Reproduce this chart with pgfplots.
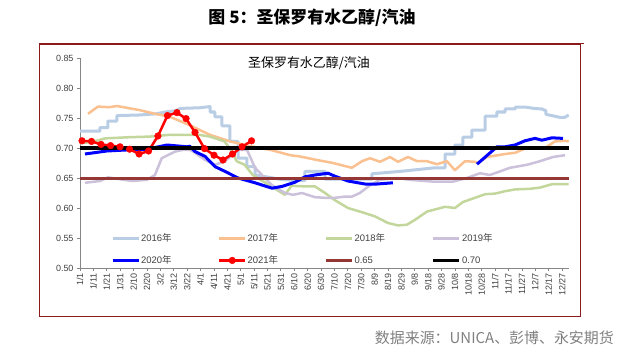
\documentclass[border=0pt]{standalone}
\usepackage{fontspec}
\setmainfont{Liberation Sans}
\newfontfamily\cjk{Noto Sans CJK SC}
\usepackage{pgfplots}
\pgfplotsset{compat=1.18}
\definecolor{c16}{HTML}{B9CDE5}
\definecolor{c17}{HTML}{FAC090}
\definecolor{c18}{HTML}{C3D69B}
\definecolor{c19}{HTML}{CCC1DA}
\definecolor{c20}{HTML}{0000FF}
\definecolor{c21}{HTML}{FF0000}
\definecolor{c65}{HTML}{953735}
\definecolor{boxred}{HTML}{8B1A1A}
\definecolor{axgray}{HTML}{868686}
\definecolor{txtgray}{HTML}{404040}
\begin{document}
\begin{tikzpicture}[x=1bp,y=1bp]
\path (0,0) rectangle (622,354);
\node[font=\cjk\bfseries\fontsize{17}{17}\selectfont, inner sep=0pt] at (312,336) {图 5：圣保罗有水乙醇/汽油};
\draw[boxred, line width=1bp] (39,310) rectangle (580,38);
\draw[boxred, line width=1.2bp] (39,310.5) -- (584,310.5);
\node[font=\cjk\fontsize{15}{15}\selectfont, text=gray, inner sep=0pt, anchor=east] at (614,16) {数据来源：UNICA、彭博、永安期货};
\begin{axis}[
  at={(80bp,86bp)}, anchor=south west, scale only axis,
  width=489bp, height=210bp,
  xmin=1, xmax=366.2, ymin=0.5, ymax=0.85,
  axis lines*=left,
  axis line style={draw=axgray, line width=0.75bp},
  tick style={draw=axgray, line width=0.75bp},
  tick align=outside, major tick length=3bp,
  ytick={0.50,0.55,0.60,0.65,0.70,0.75,0.80,0.85},
  y tick label style={/pgf/number format/fixed, /pgf/number format/fixed zerofill, /pgf/number format/precision=2, font=\fontsize{9}{9}\selectfont, text=txtgray},
  /pgf/number format/assume math mode=true,
  xtick={1,11,...,361},
  xticklabels={1/1,1/11,1/21,1/31,2/10,2/20,3/2,3/12,3/22,4/1,4/11,4/21,5/1,5/11,5/21,5/31,6/10,6/20,6/30,7/10,7/20,7/30,8/9,8/19,8/29,9/8,9/18,9/28,10/8,10/18,10/28,11/7,11/17,11/27,12/7,12/17,12/27},
  x tick label style={rotate=90, anchor=east, font=\fontsize{9}{9}\selectfont, text=txtgray, inner sep=2bp},
  unbounded coords=jump,
  legend columns=4,
  legend cell align=left,
  legend style={draw=none, fill=none, inner sep=0pt, outer sep=0pt,
    at={(0.0634,0.168)}, anchor=north west,
    font=\fontsize{9.5}{9.5}\selectfont, text=txtgray,
    nodes={inner sep=1bp},
    row sep=10.5bp,
    /tikz/every even column/.append style={column sep=36bp}},
  legend image code/.code={\draw[mark repeat=2,mark phase=2,#1] plot coordinates {(0bp,0bp) (13bp,0bp) (26bp,0bp)};},
]
\addplot[c16, line width=3bp, line join=round] coordinates {
(1,0.728)(15.9,0.728)(15.9,0.734)(21.9,0.734)(21.9,0.745)(28.6,0.745)(28.6,0.754)(45,0.755)(58,0.757)(64.5,0.760)(72,0.762)(76,0.766)(90,0.767)(98.1,0.769)(98.1,0.760)(101.8,0.760)(101.8,0.752)(107,0.752)(107,0.737)(113,0.737)(113,0.711)(119,0.711)(119,0.683)(125.7,0.683)(125.7,0.669)(131.7,0.669)(131.7,0.655)(140,0.652)(150,0.648)(160,0.646)(169,0.646)(169,0.661)(184,0.661)(184,0.648)(219,0.648)(219,0.657)(240,0.661)(266,0.667)(273.6,0.667)(273.6,0.690)(281,0.690)(281,0.705)(287,0.705)(287,0.718)(293.7,0.718)(293.7,0.730)(303.5,0.730)(303.5,0.753)(312.4,0.753)(312.4,0.760)(318.4,0.760)(318.4,0.765)(325.9,0.765)(325.9,0.768)(334,0.768)(340,0.766)(346,0.765)(349,0.762)(349,0.756)(353.5,0.754)(359.5,0.751)(363,0.751)(366,0.755)};
\addlegendentry{\makebox[40bp][l]{2016{\cjk 年}}}
\addplot[c17, line width=2.5bp, line join=round] coordinates {
(7,0.757)(14.4,0.769)(23,0.768)(28.6,0.770)(45.8,0.763)(57,0.757)(68.2,0.752)(83,0.738)(98,0.722)(113,0.711)(128,0.703)(143,0.697)(158,0.688)(165,0.686)(178,0.680)(190,0.675)(204,0.667)(211.6,0.678)(217.6,0.683)(225,0.677)(232.5,0.685)(238.5,0.677)(246,0.685)(252.7,0.678)(260,0.678)(267.6,0.673)(275,0.678)(281,0.663)(288.5,0.678)(296,0.677)(298,0.675)(305,0.685)(318.4,0.690)(325.9,0.692)(333.3,0.699)(348.3,0.700)(355.7,0.711)(363,0.712)(366,0.711)};
\addlegendentry{\makebox[40bp][l]{2017{\cjk 年}}}
\addplot[c18, line width=2.5bp, line join=round] coordinates {
(1,0.708)(10,0.710)(19.7,0.716)(38,0.718)(53,0.719)(68,0.722)(90,0.722)(98,0.719)(109,0.711)(115,0.692)(118,0.678)(124,0.672)(130,0.655)(141,0.640)(154,0.622)(159,0.637)(169,0.636)(176.5,0.636)(184,0.625)(191.4,0.613)(201.1,0.600)(211.6,0.593)(221.3,0.586)(231,0.575)(238.5,0.571)(245,0.572)(251,0.580)(260.1,0.594)(273.6,0.602)(281,0.600)(287,0.610)(296,0.617)(303.5,0.623)(311,0.624)(318.4,0.628)(326,0.631)(337,0.632)(344.5,0.634)(354,0.640)(366,0.640)};
\addlegendentry{\makebox[40bp][l]{2018{\cjk 年}}}
\addplot[c19, line width=2.5bp, line join=round] coordinates {
(4.7,0.642)(15.9,0.645)(21.9,0.651)(39.8,0.645)(51,0.647)(57,0.655)(62,0.683)(72,0.694)(78,0.697)(83,0.697)(87,0.692)(94.4,0.680)(101.8,0.672)(109.3,0.678)(114.5,0.688)(119,0.697)(125.7,0.697)(131.7,0.667)(136.9,0.655)(144.4,0.638)(154.1,0.625)(160,0.622)(166.8,0.625)(176.5,0.618)(184,0.617)(191.4,0.617)(198.9,0.619)(204,0.619)(210,0.625)(217.6,0.638)(225,0.647)(238,0.650)(247,0.647)(264.6,0.644)(279.6,0.644)(290,0.650)(299.7,0.658)(307,0.655)(314.7,0.661)(322,0.667)(334.8,0.672)(344.5,0.678)(354.2,0.685)(363.2,0.688)};
\addlegendentry{\makebox[40bp][l]{2019{\cjk 年}}}
\addplot[c20, line width=3bp, line join=round] coordinates {
(4.7,0.690)(21,0.695)(38,0.697)(51,0.698)(66,0.705)(81,0.702)(83,0.703)(87,0.694)(94.4,0.686)(101.8,0.669)(109.3,0.661)(119,0.650)(131.7,0.642)(144.4,0.633)(151.9,0.636)(161.6,0.643)(169,0.652)(176.5,0.655)(186.2,0.658)(191.4,0.653)(201.1,0.645)(213.8,0.640)(222.8,0.640)(234.7,0.642)
(260,nan)
(297.5,0.673)(312.4,0.702)(318.4,0.702)(325.9,0.705)(333.3,0.712)(340.8,0.716)(346,0.713)(353.5,0.717)(361.7,0.716)};
\addlegendentry{\makebox[40bp][l]{2020{\cjk 年}}}
\addplot[c21, line width=2.5bp, line join=round, mark=*, mark size=3.3bp, mark options={solid, fill=c21, draw=c21, line width=0.5bp}] coordinates {
(2.5,0.712)(9.6,0.711)(16.7,0.706)(23.8,0.704)(30.9,0.702)(38,0.698)(45.1,0.690)(52.2,0.695)(59.2,0.720)(66.3,0.754)(73.4,0.759)(80.2,0.749)(86.9,0.726)(94,0.699)(101.1,0.688)(107.8,0.680)(114.9,0.690)(122,0.702)(129.1,0.712)};
\addlegendentry{\makebox[40bp][l]{2021{\cjk 年}}}
\addplot[c65, line width=3bp] coordinates {(1,0.65)(366.2,0.65)};
\addlegendentry{\makebox[40bp][l]{0.65}}
\addplot[black, line width=3.5bp] coordinates {(1,0.70)(366.2,0.70)};
\addlegendentry{\makebox[40bp][l]{0.70}}
\end{axis}
\node[font=\cjk\fontsize{13}{13}\selectfont, inner sep=0pt] at (309,291) {圣保罗有水乙醇/汽油};
\end{tikzpicture}
\end{document}
